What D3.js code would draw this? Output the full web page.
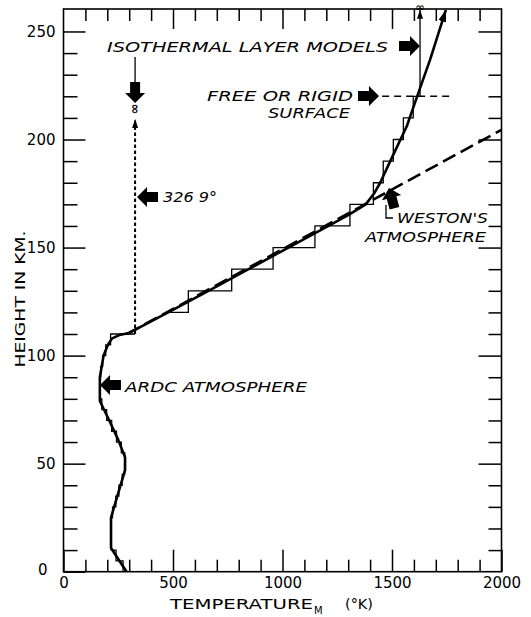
<!DOCTYPE html>
<html>
<head>
<meta charset="utf-8">
<script src="https://cdn.jsdelivr.net/npm/d3@7"></script>
<style>
  html, body { margin: 0; padding: 0; background: #fff; }
  svg { display: block; }
  text { font-family: "DejaVu Sans", sans-serif; fill: #000; }
</style>
</head>
<body>
<svg id="chart" width="531" height="617"></svg>
<script>
// ARDC molecular-scale temperature profile, continued above 110 km
const profileHeight = [0, 11, 25, 32, 47, 53, 61, 70, 79, 90, 100, 105, 108, 109.5, 110.5,
  120, 130, 140, 150, 160, 165, 170, 175, 180, 190, 206, 221.5, 237, 260];
const profileTemp = [288, 217, 217, 237, 281, 281, 250, 209, 166, 166, 183, 203, 222, 255, 300,
  478, 662, 845, 1027, 1210, 1300, 1380, 1418, 1446, 1492, 1567, 1620, 1674, 1746];

// Weston's atmosphere (linear in height)
const westonHeight = [110, 204.5];
const westonTemp = [290, 2000];

// Isothermal layer model, lower atmosphere: 5-km layers, then one layer to infinity
const lowerLayerHeight = [0, 5, 10, 15, 20, 25, 30, 35, 40, 45, 50, 55, 60, 65, 70, 75, 80,
  85, 90, 95, 100, 105, 110];
const lowerLayerTemp = [272, 240, 218, 217, 217, 224, 239, 253, 268, 279, 280, 264, 242, 220,
  197, 175, 166, 166, 170, 179, 193, 215];
const isothermalTemp = 326.9;
const isothermalTopHeight = 209.5;

// Isothermal layer model, upper atmosphere (first value starts the stair at 120 km)
const upperLayerHeight = [120, 130, 140, 150, 160, 170, 180, 190, 200, 210, 220];
const upperLayerTemp = [476, 570, 768, 957, 1148, 1308, 1415, 1460, 1506, 1552, 1597, 1628];

// Free or rigid surface level
const surfaceHeight = 220;
const surfaceTemp = [1455, 1780];

// Axis ticks
const xTickValues = [0, 500, 1000, 1500, 2000];
const xMinorTicks = d3.range(100, 2000, 100);
const yTickValues = [0, 50, 100, 150, 200, 250];
const yMinorTicks = d3.range(10, 260, 10);

const svg = d3.select("#chart");
const x = d3.scaleLinear().domain([0, 2000]).range([63.5, 501.5]);
const y = d3.scaleLinear().domain([0, 260.4]).range([571.7, 9]);

const defs = svg.append("defs");
function marker(id, len, wid) {
  defs.append("marker")
    .attr("id", id)
    .attr("markerUnits", "userSpaceOnUse")
    .attr("markerWidth", len).attr("markerHeight", wid)
    .attr("refX", len).attr("refY", wid / 2)
    .attr("orient", "auto")
    .append("path")
    .attr("d", `M0,0L${len},${wid / 2}L0,${wid}Z`)
    .attr("fill", "#000");
}
marker("headBig", 12, 8);
marker("headSmall", 9, 6);

// ---- axes ----
function styleAxis(g) {
  g.select(".domain").remove();
  g.selectAll(".tick line").attr("stroke", "#000").attr("stroke-width", 1.5);
  g.selectAll(".tick text").style("font-size", "15px").attr("fill", "#000");
}
// minor ticks
svg.append("g").attr("transform", `translate(0,${y(0)})`)
  .call(d3.axisBottom(x).tickValues(xMinorTicks.filter(d => d % 500)).tickSize(-12).tickFormat(""))
  .call(styleAxis);
svg.append("g").attr("transform", `translate(0,${y.range()[1]})`)
  .call(d3.axisTop(x).tickValues(xMinorTicks.filter(d => d % 500)).tickSize(-12).tickFormat(""))
  .call(styleAxis);
svg.append("g").attr("transform", `translate(${x(0)},0)`)
  .call(d3.axisLeft(y).tickValues(yMinorTicks.filter(d => d % 50)).tickSize(-14).tickFormat(""))
  .call(styleAxis);
svg.append("g").attr("transform", `translate(${x(2000)},0)`)
  .call(d3.axisRight(y).tickValues(yMinorTicks.filter(d => d % 50)).tickSize(-13).tickFormat(""))
  .call(styleAxis);
// major ticks with labels
svg.append("g").attr("transform", `translate(0,${y(0)})`)
  .call(d3.axisBottom(x).tickValues(xTickValues).tickSize(-22).tickPadding(6).tickFormat(d3.format("d")))
  .call(styleAxis);
svg.append("g").attr("transform", `translate(0,${y.range()[1]})`)
  .call(d3.axisTop(x).tickValues(xTickValues.slice(1, -1)).tickSize(-20).tickFormat(""))
  .call(styleAxis);
svg.append("g").attr("transform", `translate(${x(0)},0)`)
  .call(d3.axisLeft(y).tickValues(yTickValues).tickSize(-22).tickPadding(8).tickFormat(d3.format("d")))
  .call(styleAxis)
  .call(g => g.selectAll(".tick").filter(d => d === 0).select("text").attr("x", -16).attr("dy", "0.2em"));
svg.append("g").attr("transform", `translate(${x(2000)},0)`)
  .call(d3.axisRight(y).tickValues(yTickValues.slice(1)).tickSize(-23).tickFormat(""))
  .call(styleAxis);

// frame
svg.append("rect")
  .attr("x", x(0)).attr("y", y.range()[1])
  .attr("width", x(2000) - x(0)).attr("height", y(0) - y.range()[1])
  .attr("fill", "none").attr("stroke", "#000").attr("stroke-width", 1.6);

// axis titles
svg.append("text")
  .attr("transform", "translate(25,299) rotate(-90)")
  .attr("text-anchor", "middle")
  .attr("textLength", 137).attr("lengthAdjust", "spacingAndGlyphs")
  .style("font-size", "14px")
  .text("HEIGHT IN KM.");
svg.append("text").attr("x", 170).attr("y", 609)
  .attr("textLength", 143).attr("lengthAdjust", "spacingAndGlyphs")
  .style("font-size", "14px").text("TEMPERATURE");
svg.append("text").attr("x", 314).attr("y", 614)
  .style("font-size", "10px").text("M");
svg.append("text").attr("x", 345).attr("y", 609)
  .attr("textLength", 28).attr("lengthAdjust", "spacingAndGlyphs")
  .style("font-size", "14px").text("(°K)");

// ---- layer models (thin stairs) ----
const line = d3.line().x(d => x(d[0])).y(d => y(d[1]));

const lowerStair = [[lowerLayerTemp[0], lowerLayerHeight[0]]];
lowerLayerTemp.forEach((t, i) => {
  if (i > 0) lowerStair.push([t, lowerLayerHeight[i]]);
  lowerStair.push([t, lowerLayerHeight[i + 1]]);
});
lowerStair.push([isothermalTemp, lowerLayerHeight[lowerLayerHeight.length - 1]]);
svg.append("path").attr("d", line(lowerStair))
  .attr("fill", "none").attr("stroke", "#000").attr("stroke-width", 1.3);

// isothermal extension to infinity
svg.append("path")
  .attr("d", line([[isothermalTemp, lowerLayerHeight[lowerLayerHeight.length - 1]], [isothermalTemp, isothermalTopHeight]]))
  .attr("fill", "none").attr("stroke", "#000").attr("stroke-width", 2)
  .attr("stroke-dasharray", "3.5,2.5")
  .attr("marker-end", "url(#headSmall)");

const upperStair = [[upperLayerTemp[0], upperLayerHeight[0]]];
upperLayerHeight.forEach((h, i) => {
  upperStair.push([upperLayerTemp[i + 1], h]);
  if (i < upperLayerHeight.length - 1) upperStair.push([upperLayerTemp[i + 1], upperLayerHeight[i + 1]]);
});
svg.append("path").attr("d", line(upperStair))
  .attr("fill", "none").attr("stroke", "#000").attr("stroke-width", 1.3);
// top layer extends to infinity
const topTemp = upperLayerTemp[upperLayerTemp.length - 1];
svg.append("path")
  .attr("d", line([[topTemp, upperLayerHeight[upperLayerHeight.length - 1]], [topTemp, 260.1]]))
  .attr("fill", "none").attr("stroke", "#000").attr("stroke-width", 1.3)
  .attr("marker-end", "url(#headSmall)");

// free or rigid surface
svg.append("path")
  .attr("d", line(surfaceTemp.map(t => [t, surfaceHeight])))
  .attr("fill", "none").attr("stroke", "#000").attr("stroke-width", 1.4)
  .attr("stroke-dasharray", "7,5");

// Weston's atmosphere
svg.append("path")
  .attr("d", line(westonTemp.map((t, i) => [t, westonHeight[i]])))
  .attr("fill", "none").attr("stroke", "#000").attr("stroke-width", 2.6)
  .attr("stroke-dasharray", "14,6");

// main profile
svg.append("path")
  .attr("d", line(profileTemp.map((t, i) => [t, profileHeight[i]])))
  .attr("fill", "none").attr("stroke", "#000").attr("stroke-width", 2.6)
  .attr("stroke-linejoin", "round")
  .attr("marker-end", "url(#headBig)");

// infinity symbols
svg.append("text")
  .attr("transform", `translate(${x(isothermalTemp)},${y(isothermalTopHeight) - 10}) rotate(90)`)
  .attr("text-anchor", "middle").attr("dy", "0.35em")
  .style("font-size", "13px").style("font-weight", "bold").text("∞");
svg.append("text")
  .attr("x", x(topTemp)).attr("y", 11)
  .attr("text-anchor", "middle")
  .style("font-size", "11px").style("font-weight", "bold").text("∞");

// ---- annotations ----
function blockArrow(tx, ty, angle) {
  svg.append("path")
    .attr("d", "M0,0L-10,-10L-10,-5L-21,-5L-21,5L-10,5L-10,10Z")
    .attr("transform", `translate(${tx},${ty}) rotate(${angle})`)
    .attr("fill", "#000");
}
function label(str, lx, ly, len) {
  svg.append("text").attr("x", lx).attr("y", ly)
    .attr("textLength", len).attr("lengthAdjust", "spacingAndGlyphs")
    .style("font-size", "14px").style("font-style", "italic")
    .text(str);
}

label("ISOTHERMAL LAYER MODELS", 107, 52, 281);
blockArrow(420, 46, 0);
svg.append("line").attr("x1", x(isothermalTemp)).attr("x2", x(isothermalTemp))
  .attr("y1", 57).attr("y2", 84).attr("stroke", "#000").attr("stroke-width", 1.3);
blockArrow(x(isothermalTemp), 103, 90);

label("FREE OR RIGID", 207, 101, 146);
label("SURFACE", 268, 118, 82);
blockArrow(379, 96, 0);

label("326 9°", 163, 202, 54);
blockArrow(137, 197, 180);

label("ARDC ATMOSPHERE", 125, 392, 182);
blockArrow(100, 385, 180);

label("WESTON'S", 397, 223, 91);
label("ATMOSPHERE", 365, 242, 121);
blockArrow(389, 188, -105);
svg.append("path").attr("d", "M386,205V218H393")
  .attr("fill", "none").attr("stroke", "#000").attr("stroke-width", 1.3);
</script>
</body>
</html>
